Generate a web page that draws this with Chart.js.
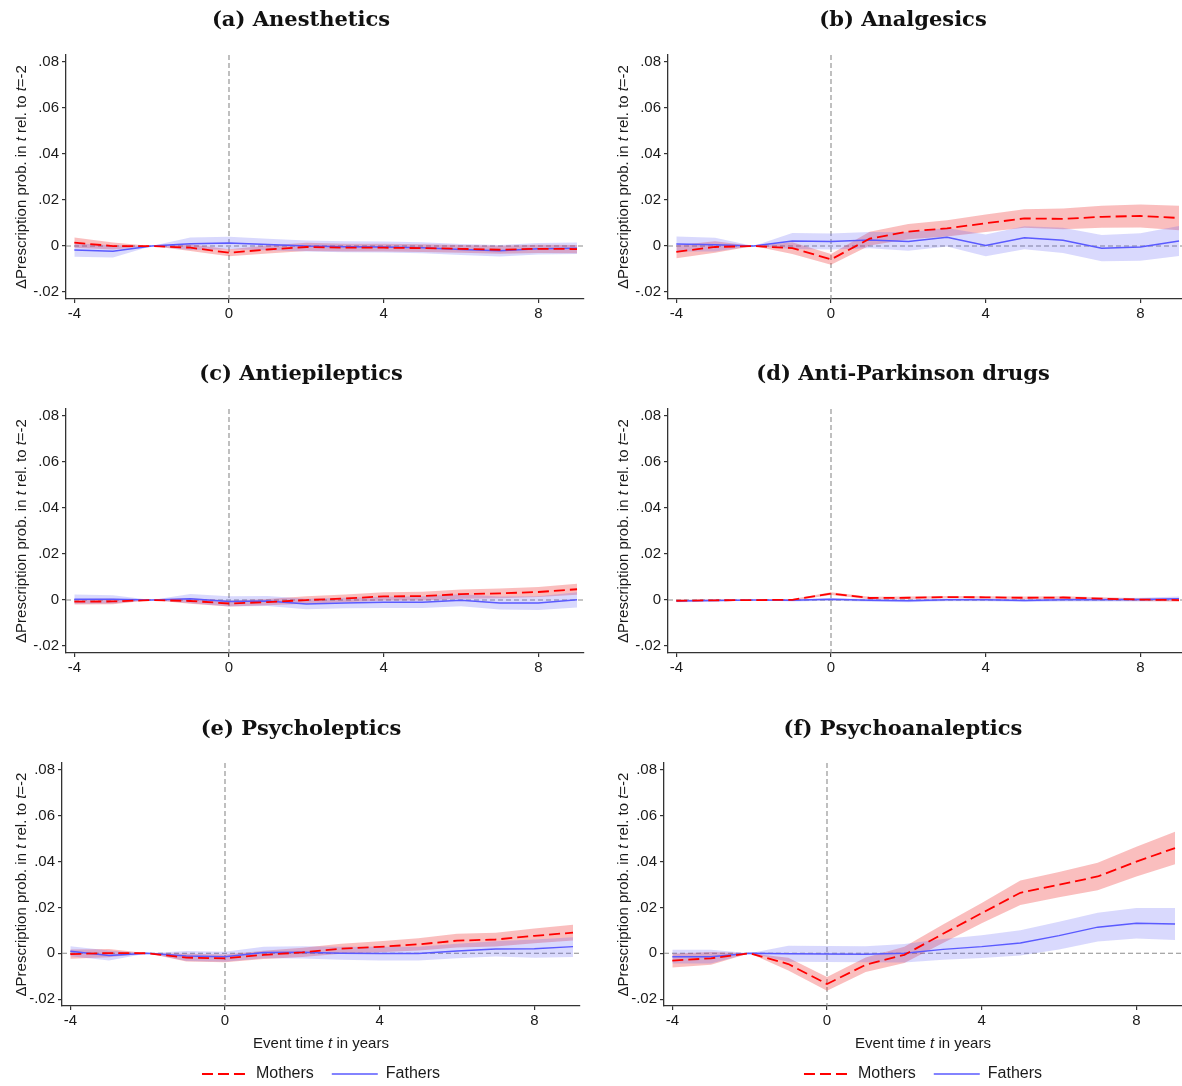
<!DOCTYPE html>
<html><head><meta charset="utf-8">
<script src="https://cdn.jsdelivr.net/npm/chart.js@4.4.1/dist/chart.umd.min.js"></script>
<style>
html,body{margin:0;padding:0;background:#fff;width:1182px;height:1086px;overflow:hidden;position:relative}
canvas{position:absolute}
</style></head><body>
<script>
// ---------------- data ----------------
const eventTimes = [-4,-3,-2,-1,0,1,2,3,4,5,6,7,8,9];
const xTickValues = [-4,0,4,8];
const xTickLabels = ['-4','0','4','8'];
const yTickValues = [-0.02,0,0.02,0.04,0.06,0.08];
const yTickLabels = ['-.02','0','.02','.04','.06','.08'];
const panelTitles = ['(a) Anesthetics','(b) Analgesics','(c) Antiepileptics','(d) Anti-Parkinson drugs','(e) Psycholeptics','(f) Psychoanaleptics'];
const seriesNames = ['Mothers','Fathers'];
const yTitleParts = [['\u0394Prescription prob. in ',false],['t',true],[' rel. to ',false],['t',true],['=-2',false]];
const xTitleParts = [['Event time ',false],['t',true],[' in years',false]];

// (a) Anesthetics
const aMothers   = [0.0015, 0.0000, 0, -0.0007, -0.0029, -0.0015, -0.0004, -0.0007, -0.0007, -0.0009, -0.0012, -0.0016, -0.0012, -0.0013];
const aMothersLo = [-0.0007, -0.0015, 0, -0.0022, -0.0044, -0.0032, -0.0022, -0.0024, -0.0024, -0.0026, -0.0029, -0.0033, -0.0030, -0.0031];
const aMothersHi = [0.0037, 0.0015, 0, 0.0008, -0.0014, 0.0002, 0.0014, 0.0010, 0.0010, 0.0008, 0.0005, 0.0001, 0.0006, 0.0005];
const aFathers   = [-0.0017, -0.0023, 0, 0.0010, 0.0013, 0.0007, 0.0000, -0.0003, -0.0004, -0.0007, -0.0015, -0.0020, -0.0012, -0.0010];
const aFathersLo = [-0.0046, -0.0050, 0, -0.0017, -0.0014, -0.0018, -0.0024, -0.0027, -0.0028, -0.0031, -0.0039, -0.0045, -0.0037, -0.0035];
const aFathersHi = [0.0012, 0.0004, 0, 0.0037, 0.0040, 0.0032, 0.0024, 0.0021, 0.0020, 0.0017, 0.0009, 0.0005, 0.0013, 0.0015];
// (b) Analgesics
const bMothers   = [-0.0025, -0.0004, 0, -0.0009, -0.0058, 0.0032, 0.0063, 0.0077, 0.0099, 0.0120, 0.0118, 0.0127, 0.0131, 0.0122];
const bMothersLo = [-0.0053, -0.0029, 0, -0.0034, -0.0081, 0.0002, 0.0030, 0.0042, 0.0061, 0.0080, 0.0073, 0.0079, 0.0081, 0.0069];
const bMothersHi = [0.0003, 0.0021, 0, 0.0016, -0.0035, 0.0062, 0.0096, 0.0112, 0.0137, 0.0160, 0.0163, 0.0175, 0.0181, 0.0175];
const bFathers   = [0.0009, 0.0006, 0, 0.0022, 0.0020, 0.0026, 0.0020, 0.0038, 0.0003, 0.0036, 0.0025, -0.0009, -0.0004, 0.0022];
const bFathersLo = [-0.0024, -0.0024, 0, -0.0013, -0.0015, -0.0009, -0.0020, -0.0002, -0.0044, -0.0014, -0.0030, -0.0066, -0.0064, -0.0043];
const bFathersHi = [0.0042, 0.0036, 0, 0.0057, 0.0055, 0.0061, 0.0060, 0.0078, 0.0050, 0.0086, 0.0080, 0.0048, 0.0056, 0.0087];
// (c) Antiepileptics
const cMothers   = [-0.0007, -0.0006, 0, -0.0004, -0.0015, -0.0009, 0.0000, 0.0007, 0.0016, 0.0017, 0.0026, 0.0029, 0.0035, 0.0047];
const cMothersLo = [-0.0019, -0.0018, 0, -0.0016, -0.0028, -0.0023, -0.0016, -0.0010, -0.0002, -0.0002, 0.0006, 0.0008, 0.0013, 0.0023];
const cMothersHi = [0.0005, 0.0006, 0, 0.0008, -0.0002, 0.0005, 0.0016, 0.0024, 0.0034, 0.0036, 0.0046, 0.0050, 0.0057, 0.0071];
const cFathers   = [0.0004, 0.0003, 0, 0.0006, -0.0006, -0.0004, -0.0017, -0.0013, -0.0010, -0.0009, -0.0001, -0.0013, -0.0013, 0.0001];
const cFathersLo = [-0.0016, -0.0015, 0, -0.0014, -0.0028, -0.0026, -0.0040, -0.0036, -0.0034, -0.0034, -0.0027, -0.0041, -0.0043, -0.0032];
const cFathersHi = [0.0024, 0.0021, 0, 0.0026, 0.0016, 0.0018, 0.0006, 0.0010, 0.0014, 0.0016, 0.0025, 0.0015, 0.0017, 0.0034];
// (d) Anti-Parkinson drugs
const dMothers   = [-0.0003, -0.0001, 0, 0.0001, 0.0028, 0.0009, 0.0010, 0.0013, 0.0012, 0.0010, 0.0011, 0.0006, 0.0002, 0.0000];
const dMothersLo = [-0.0006, -0.0004, 0, -0.0003, 0.0022, 0.0004, 0.0005, 0.0008, 0.0007, 0.0005, 0.0005, 0.0000, -0.0004, -0.0007];
const dMothersHi = [0.0000, 0.0002, 0, 0.0005, 0.0034, 0.0014, 0.0015, 0.0018, 0.0017, 0.0015, 0.0017, 0.0012, 0.0008, 0.0007];
const dFathers   = [-0.0004, -0.0002, 0, -0.0001, 0.0003, -0.0001, -0.0003, 0.0001, 0.0001, -0.0002, 0.0001, 0.0001, 0.0002, 0.0006];
const dFathersLo = [-0.0009, -0.0007, 0, -0.0006, -0.0003, -0.0007, -0.0009, -0.0005, -0.0005, -0.0008, -0.0006, -0.0006, -0.0006, -0.0003];
const dFathersHi = [0.0001, 0.0003, 0, 0.0004, 0.0009, 0.0005, 0.0003, 0.0007, 0.0007, 0.0004, 0.0008, 0.0008, 0.0010, 0.0015];
// (e) Psycholeptics
const eMothers   = [-0.0004, 0.0001, 0, -0.0019, -0.0022, -0.0007, 0.0004, 0.0020, 0.0028, 0.0039, 0.0055, 0.0060, 0.0076, 0.0090];
const eMothersLo = [-0.0024, -0.0017, 0, -0.0036, -0.0039, -0.0025, -0.0016, -0.0002, 0.0004, 0.0012, 0.0025, 0.0030, 0.0044, 0.0056];
const eMothersHi = [0.0016, 0.0019, 0, -0.0002, -0.0005, 0.0011, 0.0024, 0.0042, 0.0052, 0.0066, 0.0085, 0.0090, 0.0108, 0.0124];
const eFathers   = [0.0009, -0.0010, 0, -0.0012, -0.0015, 0.0003, 0.0004, 0.0000, -0.0001, -0.0001, 0.0010, 0.0019, 0.0020, 0.0029];
const eFathersLo = [-0.0013, -0.0032, 0, -0.0034, -0.0037, -0.0022, -0.0023, -0.0028, -0.0031, -0.0031, -0.0022, -0.0014, -0.0020, -0.0016];
const eFathersHi = [0.0031, 0.0012, 0, 0.0010, 0.0007, 0.0028, 0.0031, 0.0028, 0.0029, 0.0029, 0.0042, 0.0052, 0.0060, 0.0070];
// (f) Psychoanaleptics
const fMothers   = [-0.0032, -0.0022, 0, -0.0047, -0.0134, -0.0050, -0.0007, 0.0085, 0.0175, 0.0264, 0.0299, 0.0335, 0.0400, 0.0459];
const fMothersLo = [-0.0062, -0.0050, 0, -0.0075, -0.0164, -0.0082, -0.0042, 0.0045, 0.0131, 0.0211, 0.0244, 0.0275, 0.0335, 0.0388];
const fMothersHi = [-0.0002, 0.0006, 0, -0.0019, -0.0104, -0.0018, 0.0028, 0.0125, 0.0219, 0.0317, 0.0354, 0.0395, 0.0465, 0.0530];
const fFathers   = [-0.0015, -0.0015, 0, -0.0002, -0.0003, -0.0004, 0.0000, 0.0017, 0.0029, 0.0045, 0.0077, 0.0114, 0.0131, 0.0128];
const fFathersLo = [-0.0045, -0.0045, 0, -0.0037, -0.0038, -0.0039, -0.0040, -0.0028, -0.0021, -0.0010, 0.0017, 0.0051, 0.0064, 0.0058];
const fFathersHi = [0.0015, 0.0015, 0, 0.0033, 0.0032, 0.0031, 0.0040, 0.0062, 0.0079, 0.0100, 0.0137, 0.0177, 0.0198, 0.0198];

const panelSeries = [
  {m:aMothers, mlo:aMothersLo, mhi:aMothersHi, f:aFathers, flo:aFathersLo, fhi:aFathersHi},
  {m:bMothers, mlo:bMothersLo, mhi:bMothersHi, f:bFathers, flo:bFathersLo, fhi:bFathersHi},
  {m:cMothers, mlo:cMothersLo, mhi:cMothersHi, f:cFathers, flo:cFathersLo, fhi:cFathersHi},
  {m:dMothers, mlo:dMothersLo, mhi:dMothersHi, f:dFathers, flo:dFathersLo, fhi:dFathersHi},
  {m:eMothers, mlo:eMothersLo, mhi:eMothersHi, f:eFathers, flo:eFathersLo, fhi:eFathersHi},
  {m:fMothers, mlo:fMothersLo, mhi:fMothersHi, f:fFathers, flo:fFathersLo, fhi:fFathersHi}
];

// ---------------- layout / style ----------------
const CW = 602;
const geom = [
  {left:0,   top:0,   h:354, plotLeft:66, plotRight:584, plotTop:55, plotBottom:299, bottom:false},
  {left:602, top:0,   h:354, plotLeft:66, plotRight:584, plotTop:55, plotBottom:299, bottom:false},
  {left:0,   top:354, h:355, plotLeft:66, plotRight:584, plotTop:55, plotBottom:299, bottom:false},
  {left:602, top:354, h:355, plotLeft:66, plotRight:584, plotTop:55, plotBottom:299, bottom:false},
  {left:0,   top:709, h:377, plotLeft:62, plotRight:580, plotTop:54, plotBottom:297, bottom:true},
  {left:602, top:709, h:377, plotLeft:62, plotRight:580, plotTop:54, plotBottom:297, bottom:true}
];
const RED = '#ff0000', BLUE = '#5a5aff';
const RED_BAND = 'rgba(240,40,40,0.30)', BLUE_BAND = 'rgba(80,80,245,0.22)';
const SANS = "'Liberation Sans', Arial, sans-serif";
const TXT = '#1a1a1a', AXIS = '#333333';

function drawParts(ctx, parts, size){
  let total = 0;
  for (const [t,it] of parts){ ctx.font = (it?'italic ':'') + size + 'px ' + SANS; total += ctx.measureText(t).width; }
  let x = -total/2;
  for (const [t,it] of parts){ ctx.font = (it?'italic ':'') + size + 'px ' + SANS; ctx.fillText(t, x, 0); x += ctx.measureText(t).width; }
}

const decorPlugin = {
  id:'decor',
  beforeDatasetsDraw(chart){
    const {ctx, chartArea:a, scales:{x, y}} = chart;
    ctx.save();
    ctx.strokeStyle = '#8c8c8c'; ctx.lineWidth = 1.1; ctx.setLineDash([5,3]);
    const y0 = y.getPixelForValue(0), x0 = x.getPixelForValue(0);
    ctx.beginPath(); ctx.moveTo(a.left, y0); ctx.lineTo(a.right, y0); ctx.stroke();
    ctx.beginPath(); ctx.moveTo(x0, a.top); ctx.lineTo(x0, a.bottom); ctx.stroke();
    ctx.restore();
  },
  afterDraw(chart, args, opts){
    const {ctx, chartArea:a} = chart;
    ctx.save();
    ctx.fillStyle = TXT; ctx.textBaseline = 'middle'; ctx.textAlign = 'left';
    ctx.translate(opts.yTitleX, (a.top + a.bottom)/2);
    ctx.rotate(-Math.PI/2);
    drawParts(ctx, yTitleParts, 15);
    ctx.restore();
    if (opts.xTitle){
      ctx.save();
      ctx.fillStyle = TXT; ctx.textBaseline = 'middle'; ctx.textAlign = 'left';
      ctx.translate((a.left + a.right)/2, a.bottom + opts.xTitleOffset);
      drawParts(ctx, xTitleParts, 15);
      ctx.restore();
    }
  }
};

function legendLabels(chart){
  const items = Chart.defaults.plugins.legend.labels.generateLabels(chart);
  items.forEach(it => {
    const ds = chart.data.datasets[it.datasetIndex];
    it.lineDash = ds.borderDash || [];
    it.lineWidth = ds.borderWidth;
    it.strokeStyle = ds.borderColor;
    it.pointStyle = 'line';
  });
  return items;
}

function makeChart(idx){
  const g = geom[idx];
  const cv = document.createElement('canvas');
  cv.width = CW; cv.height = g.h;
  cv.style.left = g.left + 'px'; cv.style.top = g.top + 'px';
  cv.style.width = CW + 'px'; cv.style.height = g.h + 'px';
  document.body.appendChild(cv);
  const s = panelSeries[idx];
  const pts = arr => eventTimes.map((t,i) => ({x:t, y:arr[i]}));
  const band = {borderWidth:0, borderColor:'rgba(0,0,0,0)', pointRadius:0, tension:0};
  const datasets = [
    {label:seriesNames[0], data:pts(s.m), borderColor:RED, backgroundColor:RED, borderWidth:1.8, borderDash:[11,5], pointRadius:0, pointStyle:'line', fill:false, tension:0, order:0},
    {label:seriesNames[1], data:pts(s.f), borderColor:BLUE, backgroundColor:BLUE, borderWidth:1.5, pointRadius:0, pointStyle:'line', fill:false, tension:0, order:1},
    Object.assign({label:'mlo', data:pts(s.mlo), fill:false, order:3}, band),
    Object.assign({label:'mhi', data:pts(s.mhi), fill:'-1', backgroundColor:RED_BAND, order:3}, band),
    Object.assign({label:'flo', data:pts(s.flo), fill:false, order:2}, band),
    Object.assign({label:'fhi', data:pts(s.fhi), fill:'-1', backgroundColor:BLUE_BAND, order:2}, band)
  ];
  const xHeight = g.bottom ? 42 : (g.h - g.plotBottom);
  const legendH = g.bottom ? (g.h - g.plotBottom - xHeight) : 0;
  new Chart(cv, {
    type:'line',
    data:{datasets},
    plugins:[decorPlugin],
    options:{
      responsive:false, animation:false, devicePixelRatio:1,
      layout:{padding:{left:0, right:0, top:0, bottom:0}},
      plugins:{
        title:{display:true, text:panelTitles[idx], color:'#111',
          font:{family:"'DejaVu Serif', serif", weight:'bold', size:21, lineHeight:'26px'},
          padding:{top:8, bottom:g.plotTop - 8 - 26}},
        legend: g.bottom ? {
          display:true, position:'bottom', fullSize:false, maxHeight:legendH,
          labels:{usePointStyle:true, pointStyleWidth:46, padding:18, color:TXT,
            font:{family:SANS, size:16},
            generateLabels:legendLabels,
            filter:(item) => item.datasetIndex < 2}
        } : {display:false},
        tooltip:{enabled:false},
        decor:{yTitleX:22, xTitle:g.bottom, xTitleOffset:37.5}
      },
      scales:{
        x:{type:'linear', min:-4.215, max:9.18,
          afterBuildTicks:(sc) => { sc.ticks = xTickValues.map(v => ({value:v})); },
          afterFit:(sc) => { sc.height = xHeight; },
          grid:{drawOnChartArea:false, drawTicks:true, tickLength:4, color:AXIS, lineWidth:1.2},
          border:{display:true, color:AXIS, width:1.3},
          ticks:{autoSkip:false, maxRotation:0, padding:2, color:TXT, font:{family:SANS, size:15},
            callback:(v,i) => xTickLabels[i]}},
        y:{type:'linear', min:-0.023, max:0.083,
          afterBuildTicks:(sc) => { sc.ticks = yTickValues.map(v => ({value:v})); },
          afterFit:(sc) => { sc.width = g.plotLeft; },
          grid:{drawOnChartArea:false, drawTicks:true, tickLength:4, color:AXIS, lineWidth:1.2},
          border:{display:true, color:AXIS, width:1.3},
          ticks:{autoSkip:false, padding:3, color:TXT, font:{family:SANS, size:15},
            callback:(v,i) => yTickLabels[i]}},
        rightSpace:{type:'linear', position:'right', display:true, min:0, max:1,
          afterFit:(sc) => { sc.width = CW - g.plotRight; },
          grid:{display:false}, border:{display:false}, ticks:{display:false}}
      }
    }
  });
}
for (let i = 0; i < 6; i++) makeChart(i);
</script>
</body></html>
